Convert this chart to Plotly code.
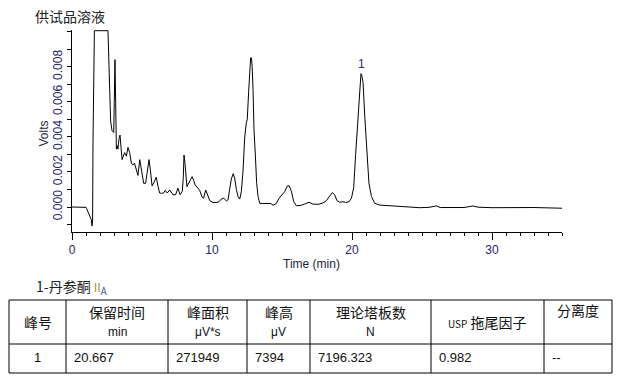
import plotly.graph_objects as go

# ---------------- data ----------------
time_min = [0.0, 0.9, 1.0, 1.05, 1.14, 1.3, 1.38, 1.43, 1.47, 1.5, 1.57, 1.6, 2.57, 2.62, 2.69, 2.76,
            2.86, 2.98, 3.02, 3.07, 3.12, 3.17, 3.22, 3.28, 3.36, 3.43, 3.5, 3.58, 3.66, 3.76, 3.82,
            3.88, 4.0, 4.12, 4.24, 4.36, 4.46, 4.6, 4.71, 4.84, 4.92, 5.02, 5.12, 5.26, 5.38, 5.5,
            5.6, 5.72, 5.86, 6.02, 6.15, 6.26, 6.4, 6.55, 6.66, 6.8, 6.98, 7.1, 7.21, 7.4, 7.57,
            7.72, 7.88, 7.95, 8.0, 8.07, 8.14, 8.21, 8.3, 8.41, 8.58, 8.7, 8.8, 9.0, 9.12, 9.28,
            9.4, 9.55, 9.67, 9.85, 10.07, 10.3, 10.5, 10.67, 10.84, 11.03, 11.14, 11.26, 11.38,
            11.52, 11.63, 11.74, 11.86, 11.98, 12.1, 12.21, 12.34, 12.45, 12.52, 12.62, 12.7,
            12.76, 12.82, 12.87, 12.93, 13.0, 13.1, 13.19, 13.29, 13.41, 13.64, 14.0, 14.2, 14.36,
            14.6, 14.79, 15.0, 15.19, 15.38, 15.5, 15.67, 15.84, 16.03, 16.38, 16.62, 16.93, 17.2,
            17.57, 17.93, 18.17, 18.41, 18.6, 18.76, 18.93, 19.12, 19.36, 19.55, 19.79, 19.96,
            20.12, 20.26, 20.43, 20.55, 20.64, 20.7, 20.79, 20.91, 21.07, 21.21, 21.39, 21.62,
            21.98, 22.45, 22.93, 23.88, 24.84, 25.5, 26.03, 26.3, 27.0, 28.0, 28.64, 29.0, 30.0,
            31.0, 32.0, 33.0, 34.0, 35.0]
volts = [0.0, 0.0, -0.00002, -0.0001, -0.00027, -0.0005, -0.00073, -0.00108, -0.0008, 0.0037, 0.0085,
         0.01005, 0.01005, 0.00885, 0.0066, 0.0049, 0.00435, 0.00425, 0.006, 0.0084, 0.0059, 0.0033,
         0.0035, 0.0033, 0.0039, 0.0041, 0.0034, 0.0027, 0.0029, 0.0031, 0.0030, 0.0029, 0.0034,
         0.0031, 0.0025, 0.0024, 0.0025, 0.0021, 0.0018, 0.0027, 0.0023, 0.0016, 0.00135, 0.00135,
         0.0020, 0.0027, 0.0021, 0.0012, 0.0014, 0.0017, 0.00115, 0.0008, 0.00078, 0.0008, 0.00095,
         0.0008, 0.00097, 0.0008, 0.0007, 0.0007, 0.00107, 0.0007, 0.0009, 0.0017, 0.00296, 0.0025,
         0.0015, 0.00116, 0.0013, 0.0015, 0.00173, 0.0015, 0.00125, 0.00107, 0.00095, 0.00058,
         0.0005, 0.00097, 0.0007, 0.00035, 0.00026, 0.00025, 0.0003, 0.00046, 0.0005, 0.00035,
         0.0004, 0.0009, 0.0016, 0.0019, 0.0016, 0.0010, 0.0006, 0.00045, 0.0009, 0.002, 0.0040,
         0.0048, 0.0050, 0.0066, 0.0075, 0.0085, 0.0085, 0.0080, 0.0067, 0.0044, 0.0029, 0.00135,
         0.0006, 0.00021, 0.0002, 0.00021, 0.0002, 0.0001, 0.0002, 0.0005, 0.00068, 0.00087,
         0.0012, 0.00122, 0.0009, 0.0003, 0.00007, 0.0001, 0.00017, 0.00027, 0.00017, 0.00015,
         0.00023, 0.00036, 0.00063, 0.00082, 0.0007, 0.00036, 0.00027, 0.0003, 0.00026, 0.0003,
         0.0005, 0.0011, 0.0030, 0.0052, 0.0070, 0.0076, 0.0075, 0.0071, 0.0052, 0.0029, 0.00135,
         0.0006, 0.00021, 0.00011, 0.00009, 0.00008, 0.00002, -0.00004, -0.00002, 0.00006,
         -0.00003, -0.00002, -0.00003, 0.00006, -0.00001, -0.00004, -0.00003, -0.00005,
         -0.00003, -0.00005, -0.00007]

x_tick_vals = [0, 10, 20, 30]
x_tick_text = ["0", "10", "20", "30"]
y_tick_vals = [0.0, 0.002, 0.004, 0.006, 0.008]
y_tick_text = ["0.000", "0.002", "0.004", "0.006", "0.008"]

peak_label = "1"
peak_time = 20.667
peak_volts = 0.0076

chart_title = "供试品溶液"
compound_label = ("1-丹参酮 <span style='color:#a8923a;font-size:12px'>II</span>"
                  "<sub><span style='color:#3a58a0'>A</span></sub>")

header_top = ["峰号", "保留时间", "峰面积", "峰高", "理论塔板数",
              "<span style='font-size:10px'>USP</span> 拖尾因子", "分离度"]
header_unit = ["", "min", "μV*s", "μV", "N", "", ""]
peak_ids = ["1"]
retention = ["20.667"]
area = ["271949"]
height_uv = ["7394"]
plates = ["7196.323"]
tailing = ["0.982"]
resolution = ["--"]

# ---------------- layout geometry ----------------
W, H = 626, 380
L, R, T, B = 72, 64, 30, 148
PW, PH = W - L - R, H - T - B


def px(x):
    return (x - L) / PW


def py(y):
    return (H - B - y) / PH


CJK = "Noto Sans CJK SC"
LAT = "Liberation Sans"
TICKC = "#24246a"

fig = go.Figure()
fig.add_trace(go.Scatter(x=time_min, y=volts, mode="lines",
                         line=dict(color="black", width=1), hoverinfo="skip",
                         showlegend=False))

ann = []
ann.append(dict(x=peak_time, y=peak_volts, xref="x", yref="y", text=peak_label,
                showarrow=False, yanchor="bottom", yshift=1,
                font=dict(family=LAT, size=12, color="#2e2870")))
ann.append(dict(x=px(33), y=py(16), xref="paper", yref="paper", text=chart_title,
                showarrow=False, xanchor="left", yanchor="middle",
                font=dict(family=CJK, size=14, color="#222222")))
ann.append(dict(x=px(311), y=py(264), xref="paper", yref="paper", text="Time (min)",
                showarrow=False, xanchor="center", yanchor="middle",
                font=dict(family=LAT, size=12, color="#1e1e40")))
ann.append(dict(x=px(43.5), y=py(134), xref="paper", yref="paper", text="Volts",
                showarrow=False, xanchor="center", yanchor="middle", textangle=-90,
                font=dict(family=LAT, size=12, color="#1e1e40")))
ann.append(dict(x=px(34), y=py(287), xref="paper", yref="paper", text=compound_label,
                showarrow=False, xanchor="left", yanchor="middle",
                font=dict(family=CJK, size=14, color="#222222")))

# table
col_edges = [9, 66, 168, 247, 310, 431, 544, 612]
row_edges = [300, 344, 373]
shapes = []
for yv in row_edges:
    shapes.append(dict(type="line", xref="paper", yref="paper",
                       x0=px(col_edges[0]), x1=px(col_edges[-1]), y0=py(yv), y1=py(yv),
                       line=dict(color="black", width=1)))
for xv in col_edges:
    shapes.append(dict(type="line", xref="paper", yref="paper",
                       x0=px(xv), x1=px(xv), y0=py(row_edges[0]), y1=py(row_edges[-1]),
                       line=dict(color="black", width=1)))

for i, (top, unit) in enumerate(zip(header_top, header_unit)):
    cx = (col_edges[i] + col_edges[i + 1]) / 2
    if unit:
        ann.append(dict(x=px(cx), y=py(311.5), xref="paper", yref="paper", text=top,
                        showarrow=False, xanchor="center", yanchor="middle",
                        font=dict(family=CJK, size=14, color="#111111")))
        ann.append(dict(x=px(cx), y=py(332), xref="paper", yref="paper", text=unit,
                        showarrow=False, xanchor="center", yanchor="middle",
                        font=dict(family=LAT, size=12, color="#111111")))
    else:
        yy = 310 if i == len(header_top) - 1 else 322
        ann.append(dict(x=px(cx), y=py(yy), xref="paper", yref="paper", text=top,
                        showarrow=False, xanchor="center", yanchor="middle",
                        font=dict(family=CJK, size=14, color="#111111")))

rows = list(zip(peak_ids, retention, area, height_uv, plates, tailing, resolution))
for r, row in enumerate(rows):
    for i, val in enumerate(row):
        if i == 0:
            ann.append(dict(x=px((col_edges[0] + col_edges[1]) / 2), y=py(357),
                            xref="paper", yref="paper", text=val, showarrow=False,
                            xanchor="center", yanchor="middle",
                            font=dict(family=LAT, size=13, color="#111111")))
        else:
            ann.append(dict(x=px(col_edges[i] + 6), y=py(357), xref="paper", yref="paper",
                            text=val, showarrow=False, xanchor="left", yanchor="middle",
                            font=dict(family=LAT, size=13, color="#111111")))

fig.update_layout(
    width=W, height=H, autosize=False,
    margin=dict(l=L, r=R, t=T, b=B, pad=0),
    paper_bgcolor="white", plot_bgcolor="white",
    showlegend=False,
    xaxis=dict(range=[0, 35], showgrid=False, zeroline=False, showline=True,
               linecolor="black", linewidth=1, ticks="outside", ticklen=7,
               tickcolor="black", tickmode="array", tickvals=x_tick_vals,
               ticktext=x_tick_text, tickfont=dict(family=LAT, size=12, color=TICKC),
               minor=dict(ticks="outside", ticklen=3, tickcolor="black", tickmode="linear",
                          dtick=1, tick0=0, showgrid=False)),
    yaxis=dict(range=[-0.001425, 0.01009], showgrid=False, zeroline=False, showline=True,
               linecolor="black", linewidth=1, ticks="outside", ticklen=4,
               tickcolor="black", tickmode="array", tickvals=y_tick_vals,
               ticktext=y_tick_text, tickangle=-90,
               tickfont=dict(family=LAT, size=12, color=TICKC),
               minor=dict(ticks="outside", ticklen=4, tickcolor="black", tickmode="linear",
                          dtick=0.001, tick0=0, showgrid=False)),
    annotations=ann, shapes=shapes,
)

fig.write_html(
    "out.html",
    config={"displayModeBar": False},
    post_script="document.body.style.margin='0';"
                "document.documentElement.style.overflow='hidden';",
)
